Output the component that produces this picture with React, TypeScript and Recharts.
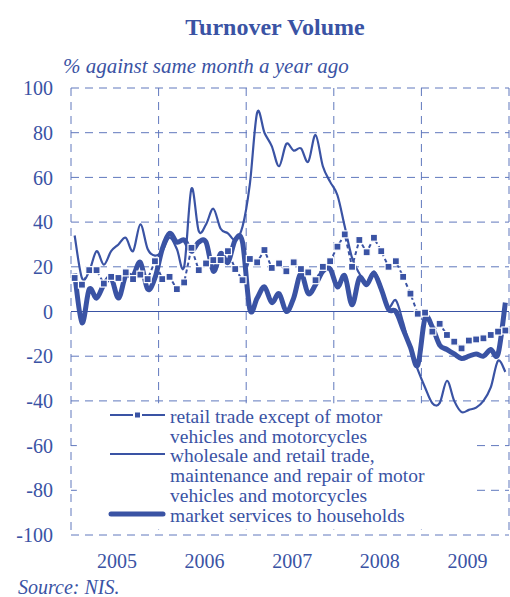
import React from 'react';
import {
  LineChart,
  Line,
  XAxis,
  YAxis,
  CartesianGrid,
  ReferenceLine,
  ReferenceArea,
} from 'recharts';

// monthly, Jan 2005 .. Dec 2009, % against same month a year ago
const years = ['2005', '2006', '2007', '2008', '2009'];
const yTicks = [-100, -80, -60, -40, -20, 0, 20, 40, 60, 80, 100];

const retailTrade = [
  15, 12, 18.5, 18.5, 12.5, 15.5, 15, 17.5, 14.5, 16.5, 14.5, 22.5,
  14.5, 15.5, 10, 13, 28.5, 18.5, 21.5, 23, 23, 27, 19, 14,
  23.5, 22, 27.5, 19.5, 21.5, 18, 22, 19, 17.5, 14, 20, 22.5,
  29, 34.5, 20, 32, 26.5, 33, 27, 20, 22.5, 15.5, 8, -1,
  -0.5, -9, -5.5, -10.5, -13.5, -16.5, -13, -12.5, -12, -10.5, -9, -8.5,
];

const wholesaleTrade = [
  34, 15, 18, 27, 21, 27, 30, 33, 27, 39, 28, 25,
  27, 33, 28, 20, 55, 36, 39, 46, 37, 35, 32, 38,
  57, 89, 80, 74, 65, 75, 72, 73, 67, 79, 65, 58,
  52, 38, 24, 17, 13, 18, 11, 2, 5, -5, -17, -26,
  -34, -41, -41, -31, -40, -45, -44, -43, -40, -34, -22, -27,
];

const marketServices = [
  17, -5, 10, 6, 12, 15, 6, 16, 16, 22, 10, 15,
  28, 35, 31, 32, 27, 31, 31, 18, 26, 22, 32, 31,
  1, 6, 11, 4, 8, 0, 6, 17, 8, 12, 18, 19,
  11, 16, 3, 15, 12, 17, 10, 1, 0, -8, -16, -24,
  -3, -7, -15, -17, -19, -21, -20, -19, -20, -17, -19, 4,
];

const data = retailTrade.map((v, i) => ({
  month: i + 0.5,
  retail: v,
  wholesale: wholesaleTrade[i],
  market: marketServices[i],
}));

const yearTicks = years.map((_, i) => i * 12 + 6.3);
const yearEdges = [0, 12, 24, 36, 48, 60];

const BLUE = '#3a53a4';
const GRID = '#6078bd';
const FONT = '"Liberation Serif", "Times New Roman", serif';

// excel-like smoothing (catmull-rom through every point)
const smoothCurve = (context: any) => {
  let pts: number[][] = [];
  return {
    areaStart() {},
    areaEnd() {},
    lineStart() {
      pts = [];
    },
    point(x: number, y: number) {
      pts.push([+x, +y]);
    },
    lineEnd() {
      const n = pts.length;
      if (!n) return;
      context.moveTo(pts[0][0], pts[0][1]);
      for (let i = 0; i < n - 1; i++) {
        const p0 = pts[Math.max(i - 1, 0)];
        const p1 = pts[i];
        const p2 = pts[i + 1];
        const p3 = pts[Math.min(i + 2, n - 1)];
        context.bezierCurveTo(
          p1[0] + (p2[0] - p0[0]) / 6,
          p1[1] + (p2[1] - p0[1]) / 6,
          p2[0] - (p3[0] - p1[0]) / 6,
          p2[1] - (p3[1] - p1[1]) / 6,
          p2[0],
          p2[1]
        );
      }
    },
  };
};

const SquareDot = (props: any) => {
  const { cx, cy, index } = props;
  if (cx == null || cy == null) return <g key={`sq-${index}`} />;
  return (
    <rect
      key={`sq-${index}`}
      x={cx - 3.5}
      y={cy - 3.5}
      width={7}
      height={7}
      fill={BLUE}
      stroke="#fff"
      strokeWidth={1.2}
    />
  );
};

const LegendIcon = ({ kind }: { kind: 'retail' | 'wholesale' | 'market' }) => (
  <svg width={58} height={12} style={{ display: 'block' }}>
    {kind === 'retail' && (
      <>
        <line x1={2} y1={6} x2={25} y2={6} stroke={BLUE} strokeWidth={2} />
        <rect x={27} y={3.5} width={5} height={5} fill={BLUE} />
        <line x1={34} y1={6} x2={57} y2={6} stroke={BLUE} strokeWidth={2} />
      </>
    )}
    {kind === 'wholesale' && (
      <line x1={2} y1={6} x2={57} y2={6} stroke={BLUE} strokeWidth={2} />
    )}
    {kind === 'market' && (
      <line x1={3} y1={6} x2={55} y2={6} stroke={BLUE} strokeWidth={5} strokeLinecap="round" />
    )}
  </svg>
);

const legendRows = [
  { kind: 'retail' as const, lines: ['retail trade except of motor', 'vehicles and motorcycles'] },
  {
    kind: 'wholesale' as const,
    lines: ['wholesale and retail trade,', 'maintenance and repair of motor', 'vehicles and motorcycles'],
  },
  { kind: 'market' as const, lines: ['market services to households'] },
];

export default function App() {
  return (
    <div
      style={{
        position: 'absolute',
        left: 0,
        top: 0,
        width: 510,
        height: 597,
        background: '#fff',
        fontFamily: FONT,
        color: BLUE,
      }}
    >
      <div
        style={{
          position: 'absolute',
          left: 75,
          top: 15,
          width: 400,
          textAlign: 'center',
          fontSize: 24,
          lineHeight: '24px',
          fontWeight: 'bold',
        }}
      >
        Turnover Volume
      </div>
      <div
        style={{
          position: 'absolute',
          left: 63,
          top: 56,
          fontSize: 21,
          lineHeight: '21px',
          fontStyle: 'italic',
          whiteSpace: 'nowrap',
        }}
      >
        % against same month a year ago
      </div>

      <LineChart
        width={510}
        height={597}
        data={data}
        margin={{ top: 88, right: 1, bottom: 0, left: 0 }}
      >
        <CartesianGrid
          stroke={GRID}
          strokeDasharray="8 6"
          verticalCoordinatesGenerator={({ offset }: any) =>
            yearEdges.map((m) => offset.left + (offset.width * m) / 60)
          }
        />
        <XAxis
          type="number"
          dataKey="month"
          domain={[0, 60]}
          ticks={yearTicks}
          interval={0}
          tickFormatter={(v: number) => years[Math.round((v - 6) / 12)]}
          axisLine={false}
          tickLine={false}
          tickSize={0}
          tickMargin={19}
          height={62}
          tick={{ fontSize: 20, fill: BLUE, fontFamily: FONT }}
        />
        <YAxis
          type="number"
          domain={[-100, 100]}
          ticks={yTicks}
          interval={0}
          axisLine={false}
          tickLine={false}
          tickSize={0}
          tickMargin={18}
          width={71}
          tick={{ fontSize: 20, fill: BLUE, fontFamily: FONT }}
        />
        <ReferenceArea
          x1={0.8}
          x2={55.5}
          y1={-97.5}
          y2={-41}
          fill="#fff"
          fillOpacity={1}
          stroke="none"
        />
        <ReferenceLine y={0} stroke={BLUE} strokeWidth={1.2} />
        <Line
          dataKey="wholesale"
          type={smoothCurve as any}
          stroke={BLUE}
          strokeWidth={2.2}
          dot={false}
          activeDot={false}
          isAnimationActive={false}
        />
        <Line
          dataKey="market"
          type={smoothCurve as any}
          stroke={BLUE}
          strokeWidth={5}
          dot={false}
          activeDot={false}
          isAnimationActive={false}
        />
        <Line
          dataKey="retail"
          type="linear"
          stroke={BLUE}
          strokeWidth={2}
          strokeDasharray="4 3"
          dot={SquareDot}
          activeDot={false}
          isAnimationActive={false}
        />
      </LineChart>

      <div
        style={{
          position: 'absolute',
          left: 108,
          top: 407,
          fontSize: 19.5,
          lineHeight: '19.7px',
          whiteSpace: 'nowrap',
        }}
      >
        {legendRows.map((row) => (
          <div key={row.kind} style={{ display: 'flex', alignItems: 'flex-start' }}>
            <div style={{ width: 62, paddingTop: 2 }}>
              <LegendIcon kind={row.kind} />
            </div>
            <div>
              {row.lines.map((t) => (
                <div key={t}>{t}</div>
              ))}
            </div>
          </div>
        ))}
      </div>

      <div
        style={{
          position: 'absolute',
          left: 18,
          top: 578,
          fontSize: 20,
          lineHeight: '18px',
          fontStyle: 'italic',
        }}
      >
        Source: NIS.
      </div>
    </div>
  );
}
